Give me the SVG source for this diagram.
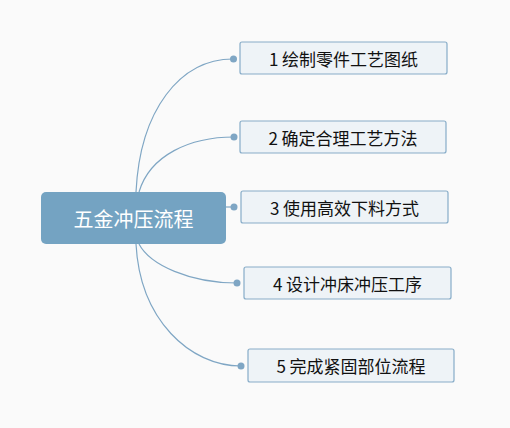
<svg xmlns="http://www.w3.org/2000/svg" width="510" height="428" viewBox="0 0 510 428">
<style>
.bg{fill:#fafafa}
.lnk{fill:none;stroke:#7fa6c4;stroke-width:1.2}
.dot{fill:#7fa6c4}
.sub rect{fill:#eef3f7;stroke:#87acc8;stroke-width:1.2}
.sub text{font-family:"Noto Sans CJK SC","Microsoft YaHei",sans-serif;font-size:17px;fill:#111111;text-anchor:middle;dominant-baseline:central}
.root rect{fill:#74a3c2}
.root text{font-family:"Noto Sans CJK SC",sans-serif;font-size:20px;fill:#ffffff;text-anchor:middle;dominant-baseline:central}
</style>
<rect class="bg" x="0" y="0" width="510" height="428"/>
<g id="connectors">
<path class="lnk" d="M136,192 C140,110 180,59 233,59"/>
<path class="lnk" d="M139,192 C150,155 190,137 234,137"/>
<path class="lnk" d="M226,207 L234,207"/>
<path class="lnk" d="M139,244 C150,265 190,283 237,283"/>
<path class="lnk" d="M136,244 C140,320 190,366 241,366"/>
<circle class="dot" cx="233.5" cy="59" r="3.5"/>
<circle class="dot" cx="234" cy="137" r="3.5"/>
<circle class="dot" cx="234" cy="207" r="3.5"/>
<circle class="dot" cx="237" cy="283" r="3.5"/>
<circle class="dot" cx="241" cy="366" r="3.5"/>
</g>
<g id="root" class="root">
<rect x="41" y="192" width="185" height="52" rx="5"/>
<text x="133.5" y="218">五金冲压流程</text>
</g>
<g id="n1" class="sub">
<rect x="240" y="42" width="207" height="32" rx="2"/>
<text x="343.5" y="58">1 绘制零件工艺图纸</text>
</g>
<g id="n2" class="sub">
<rect x="240" y="121" width="206" height="32" rx="2"/>
<text x="343" y="137">2 确定合理工艺方法</text>
</g>
<g id="n3" class="sub">
<rect x="241" y="191" width="207" height="32" rx="2"/>
<text x="344.5" y="207">3 使用高效下料方式</text>
</g>
<g id="n4" class="sub">
<rect x="244" y="267" width="207" height="32" rx="2"/>
<text x="347.5" y="283">4 设计冲床冲压工序</text>
</g>
<g id="n5" class="sub">
<rect x="248" y="349" width="206" height="33" rx="2"/>
<text x="351" y="365.5">5 完成紧固部位流程</text>
</g>
</svg>
